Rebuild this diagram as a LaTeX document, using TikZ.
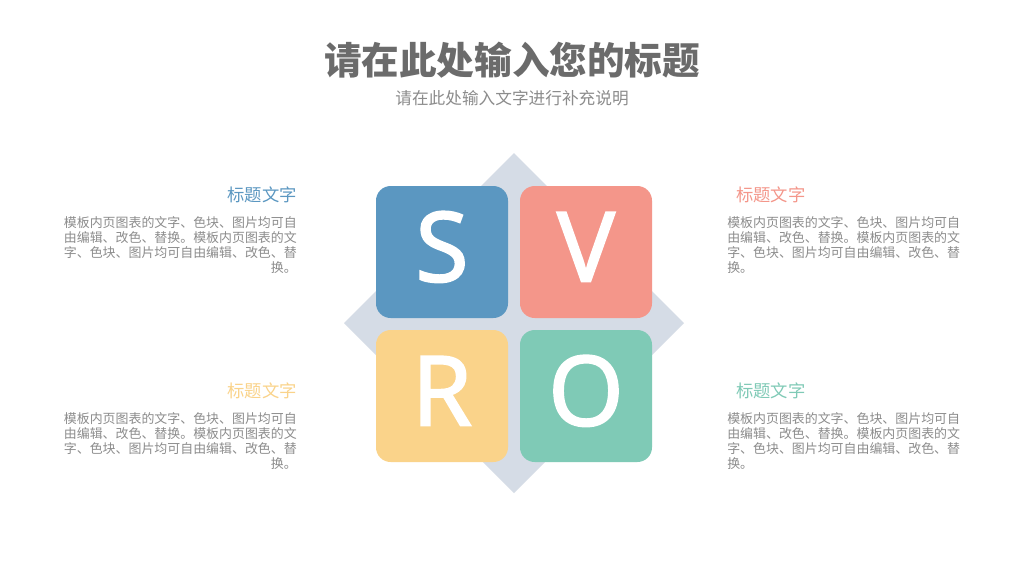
\documentclass[tikz,border=0pt]{standalone}
\usepackage{xcolor}
\usepackage{fontspec}
\usepackage{tikz}
\usetikzlibrary{positioning}
\newfontfamily\cjk{Noto Sans CJK SC}
\newfontfamily\letterfont[FakeBold=1.6]{Noto Sans}
\definecolor{sblue}{HTML}{5B97C1}
\definecolor{vred}{HTML}{F4968A}
\definecolor{ryellow}{HTML}{FAD38A}
\definecolor{ogreen}{HTML}{7FCAB6}
\definecolor{diamondgray}{HTML}{D5DCE6}
\definecolor{titlegray}{HTML}{6B6B6B}
\definecolor{bodygray}{HTML}{8C8C8C}

\begin{document}
\begin{tikzpicture}[x=0.75pt,y=-0.75pt,inner sep=0pt]
        \tikzstyle{letterbox}=[rounded corners=11pt,minimum size=99pt,text height=52pt,text depth=7.5pt,text=white,font=\letterfont\fontsize{73}{73}\selectfont]
        \tikzstyle{headline}=[font=\cjk\fontsize{13}{15}\selectfont]
        \tikzstyle{bodytext}=[font=\cjk\fontsize{9.7}{11.3}\selectfont,text=bodygray]
        \useasboundingbox[fill=white] (0,0) rectangle (1024,576);
        \node[font=\cjk\bfseries\fontsize{28.2}{30}\selectfont,text=titlegray] (title) at (512,60) {请在此处输入您的标题};
        \node[font=\cjk\fontsize{12.5}{14}\selectfont,text=bodygray] (subtitle) at (512,98) {请在此处输入文字进行补充说明};
        % diamond behind the boxes
        \fill[diamondgray] (514,153) -- (684,323) -- (514,493) -- (344,323) -- cycle;
        \node[letterbox,fill=sblue] (S) at (442,252) {S};
        \node[letterbox,fill=vred] (V) at (586,252) {V};
        \node[letterbox,fill=ryellow] (R) at (442,396) {R};
        \node[letterbox,fill=ogreen] (O) at (586,396) {O};
        % side texts
        \node[headline,text=sblue,anchor=east] (tS) at (297,195) {标题文字};
        \node[bodytext,align=right,anchor=north east] (bS) at (297,216) {模板内页图表的文字、色块、图片均可自\\由编辑、改色、替换。模板内页图表的文\\字、色块、图片均可自由编辑、改色、替\\换。};
        \node[headline,text=vred,anchor=west] (tV) at (736,195) {标题文字};
        \node[bodytext,align=left,anchor=north west] (bV) at (727,216) {模板内页图表的文字、色块、图片均可自\\由编辑、改色、替换。模板内页图表的文\\字、色块、图片均可自由编辑、改色、替\\换。};
        \node[headline,text=ryellow,anchor=east] (tR) at (297,391) {标题文字};
        \node[bodytext,align=right,anchor=north east] (bR) at (297,412) {模板内页图表的文字、色块、图片均可自\\由编辑、改色、替换。模板内页图表的文\\字、色块、图片均可自由编辑、改色、替\\换。};
        \node[headline,text=ogreen,anchor=west] (tO) at (736,391) {标题文字};
        \node[bodytext,align=left,anchor=north west] (bO) at (727,412) {模板内页图表的文字、色块、图片均可自\\由编辑、改色、替换。模板内页图表的文\\字、色块、图片均可自由编辑、改色、替\\换。};
    \end{tikzpicture}
\end{document}
